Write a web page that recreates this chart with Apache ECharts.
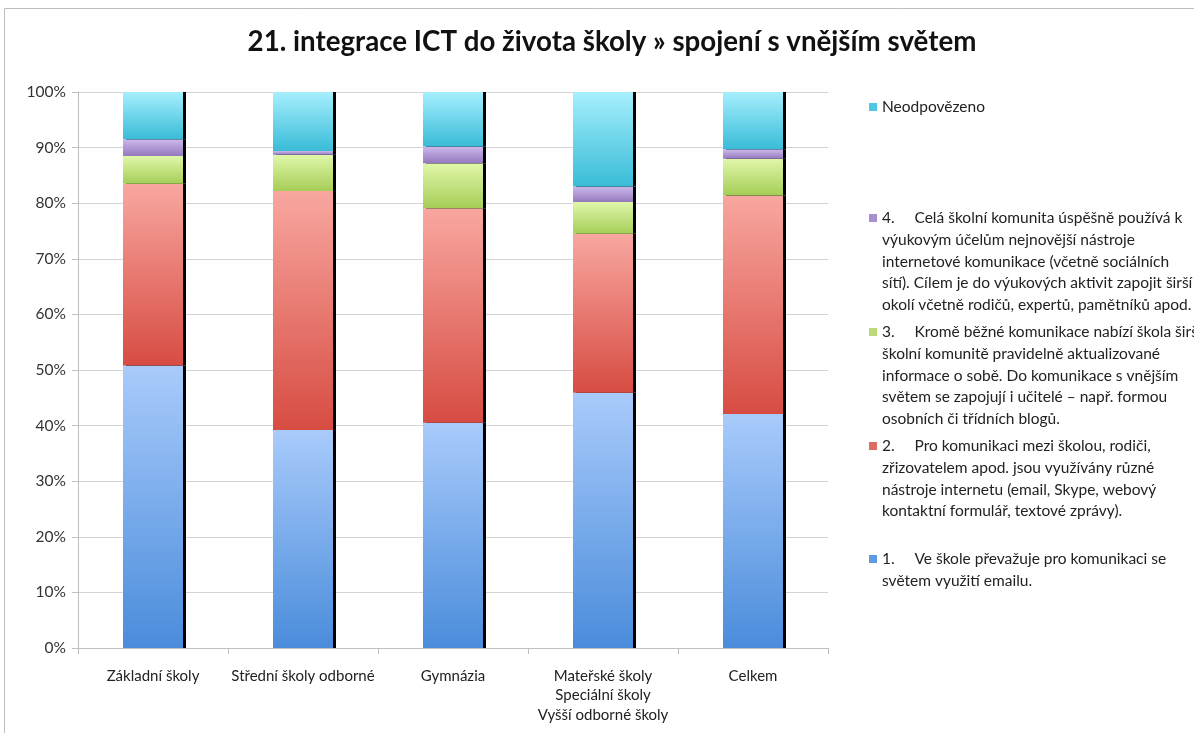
<!DOCTYPE html>
<html>
<head>
<meta charset="utf-8">
<script src="https://cdn.jsdelivr.net/npm/echarts@6/dist/echarts.min.js"></script>
<style>
html,body{margin:0;padding:0;background:#fff;}
#c{width:1194px;height:733px;}
</style>
</head>
<body>
<div id="c"></div>
<script>
const title = '21. integrace ICT do života školy » spojení s vnějším světem';
const categories = ['Základní školy', 'Střední školy odborné', 'Gymnázia', 'Mateřské školy\nSpeciální školy\nVyšší odborné školy', 'Celkem'];
const yTicks = [0, 10, 20, 30, 40, 50, 60, 70, 80, 90, 100];

const s1Lines = ['1.     Ve škole převažuje pro komunikaci se', 'světem využití emailu.'];
const s2Lines = ['2.     Pro komunikaci mezi školou, rodiči,', 'zřizovatelem apod. jsou využívány různé', 'nástroje internetu (email, Skype, webový', 'kontaktní formulář, textové zprávy).'];
const s3Lines = ['3.     Kromě běžné komunikace nabízí škola širší', 'školní komunitě pravidelně aktualizované', 'informace o sobě. Do komunikace s vnějším', 'světem se zapojují i učitelé – např. formou', 'osobních či třídních blogů.'];
const s4Lines = ['4.     Celá školní komunita úspěšně používá k', 'výukovým účelům nejnovější nástroje', 'internetové komunikace (včetně sociálních', 'sítí). Cílem je do výukových aktivit zapojit širší', 'okolí včetně rodičů, expertů, pamětníků apod.'];
const s5Lines = ['Neodpovězeno'];

const s1 = [50.8, 39.2, 40.5, 45.9, 42.1];
const s2 = [32.7, 43.0, 38.6, 28.6, 39.3];
const s3 = [5.0, 6.5, 8.1, 5.7, 6.6];
const s4 = [3.0, 0.7, 3.0, 2.8, 1.7];
const s5 = [8.5, 10.6, 9.8, 17.0, 10.3];

const FONT = 'Lato';
const LH = 21.8;
function grad(top, bottom) {
  return {type: 'linear', x: 0, y: 0, x2: 0, y2: 1, colorStops: [{offset: 0, color: top}, {offset: 1, color: bottom}]};
}
const defs = [
  {lines: s1Lines, data: s1, top: '#a9cbfb', bottom: '#4a8cdb', icon: '#5d9be3', y: 559},
  {lines: s2Lines, data: s2, top: '#f8a7a0', bottom: '#d74c42', icon: '#e06a62', y: 446},
  {lines: s3Lines, data: s3, top: '#e0f7aa', bottom: '#a6cd57', icon: '#b9dc78', y: 332},
  {lines: s4Lines, data: s4, top: '#cdb9ec', bottom: '#9579bd', icon: '#a98fd0', y: 218},
  {lines: s5Lines, data: s5, top: '#a6effd', bottom: '#39bcd8', icon: '#4cc8e2', y: 107}
];
const nameOf = d => d.lines.join(' ');
const series = defs.map(d => ({
  name: nameOf(d),
  type: 'bar',
  stack: 'all',
  barWidth: 60,
  data: d.data,
  itemStyle: {color: grad(d.top, d.bottom), shadowColor: '#000', shadowOffsetX: 3, shadowOffsetY: 0, shadowBlur: 0},
  emphasis: {disabled: true}
}));
const legends = defs.map(d => {
  return {
    data: [{name: nameOf(d), itemStyle: {opacity: 0}}],
    left: 864,
    top: d.y - LH / 2,
    padding: 0,
    icon: 'rect',
    itemWidth: 0,
    itemHeight: 0,
    selectedMode: false,
    formatter: () => d.lines.map((l, i) => (i === 0 ? '{sq| }{gap| }' : '{ind| }') + '{t|' + l + '}').join('\n'),
    textStyle: {
      fontFamily: FONT, fontSize: 15.5, color: '#222', lineHeight: LH,
      rich: {
        sq: {width: 8, height: 8, backgroundColor: d.icon, lineHeight: LH},
        gap: {width: 5, lineHeight: LH},
        ind: {width: 13, lineHeight: LH},
        t: {fontFamily: FONT, fontSize: 15.5, color: '#222', lineHeight: LH}
      }
    }
  };
});

const chart = echarts.init(document.getElementById('c'));
chart.setOption({
  animation: false,
  title: {text: title, left: 607, top: 23, textAlign: 'center', textStyle: {fontFamily: FONT, fontSize: 27.7, fontWeight: 'bold', color: '#111'}},
  graphic: [{type: 'rect', shape: {x: 4.5, y: 8.5, width: 1200, height: 740}, style: {fill: 'none', stroke: '#bdbdbd', lineWidth: 1}, silent: true, z: -1}],
  grid: {left: 78, right: 366, top: 92, bottom: 85},
  legend: legends,
  xAxis: {
    type: 'category',
    data: categories,
    axisLine: {lineStyle: {color: '#bfbfbf'}},
    axisTick: {show: true, length: 6, lineStyle: {color: '#bfbfbf'}},
    axisLabel: {interval: 0, fontFamily: FONT, fontSize: 15, color: '#222', margin: 18, lineHeight: 19.5}
  },
  yAxis: {
    type: 'value',
    min: 0, max: 100, interval: 10,
    axisLine: {show: true, lineStyle: {color: '#bfbfbf'}},
    axisTick: {show: true, length: 6, lineStyle: {color: '#bfbfbf'}},
    splitLine: {lineStyle: {color: '#d4d4d4'}},
    axisLabel: {fontFamily: FONT, fontSize: 15.5, color: '#333', margin: 12, formatter: v => yTicks.includes(v) ? v + '%' : ''}
  },
  series: series
});
</script>
</body>
</html>
